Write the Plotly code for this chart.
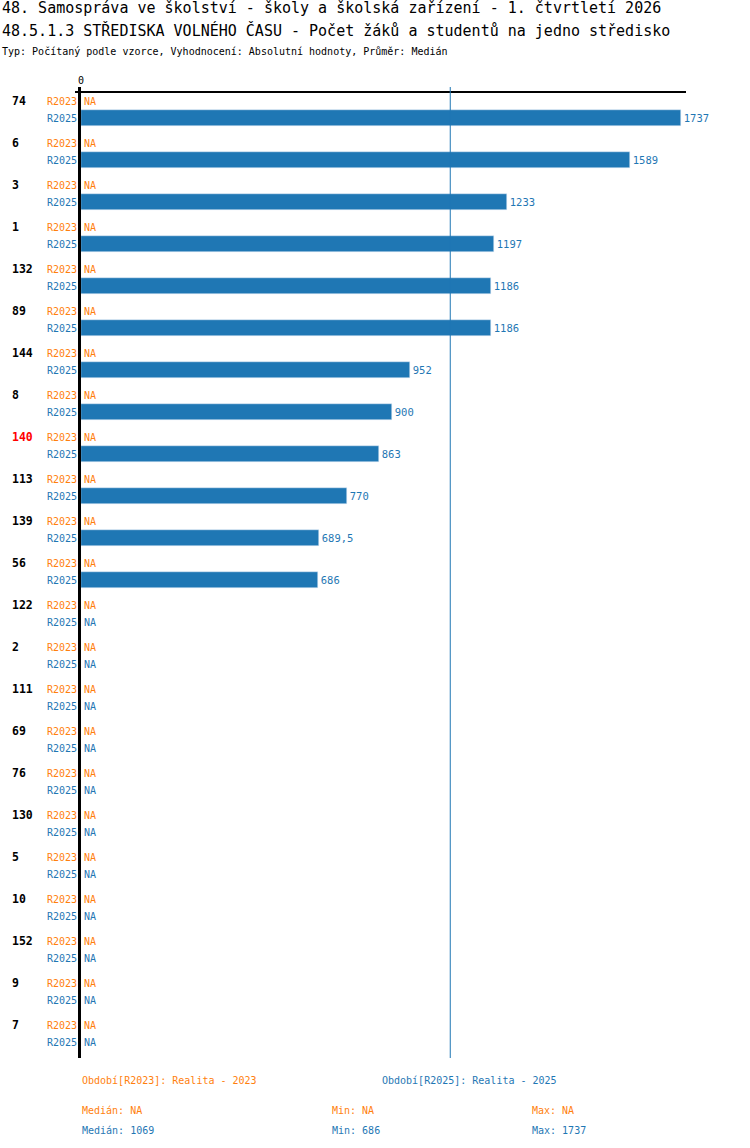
import plotly.graph_objects as go

categories = ["74", "6", "3", "1", "132", "89", "144", "8", "140", "113", "139", "56",
              "122", "2", "111", "69", "76", "130", "5", "10", "152", "9", "7"]
highlight = "140"
r2023 = [None] * 23
r2025 = [1737, 1589, 1233, 1197, 1186, 1186, 952, 900, 863, 770, 689.5, 686,
         None, None, None, None, None, None, None, None, None, None, None]
r2025_text = ["1737", "1589", "1233", "1197", "1186", "1186", "952", "900", "863",
              "770", "689,5", "686"]
median_2025 = 1069
stats_2023 = ["Medián: NA", "Min: NA", "Max: NA"]
stats_2025 = ["Medián: 1069", "Min: 686", "Max: 1737"]

ORANGE = "#ff7f0e"
BLUE = "#1f77b4"
FONT = "DejaVu Sans Mono"

W, H = 750, 1148
top, bottom = 87, 1058
left, right = 81, 686
xmax = 1737 * (right - left) / 600.0


def py(px):
    # pixel row -> paper y
    return (bottom - px) / (bottom - top)


def px_x(px):
    return (px - left) / (right - left)


# row pitch 42px, first R2023 row centre at 101px
y_lo = (bottom - 101) / 42.0
y_hi = (top - 101) / 42.0
off = 17 / 42.0

y23 = [i for i in range(len(categories))]
y25 = [i + off for i in range(len(categories))]

fig = go.Figure()
fig.add_trace(go.Bar(
    x=r2025, y=y25, orientation="h", marker_color=BLUE, width=16 / 42.0,
    text=r2025_text + [""] * (len(categories) - len(r2025_text)),
    textposition="outside", textfont=dict(family=FONT, size=10.5, color=BLUE),
    cliponaxis=False, showlegend=False, hoverinfo="skip",
))

ann = []
for i, c in enumerate(categories):
    ann.append(dict(x=px_x(10), y=y23[i], xref="paper", yref="y", text="<b>%s</b>" % c,
                    xanchor="left", showarrow=False,
                    font=dict(family=FONT, size=11.5, color="#ff0000" if c == highlight else "black")))
    ann.append(dict(x=0, y=y23[i], xref="paper", yref="y", text="R2023", xanchor="right",
                    xshift=-2, showarrow=False, font=dict(family=FONT, size=10, color=ORANGE)))
    ann.append(dict(x=0, y=y25[i], xref="paper", yref="y", text="R2025", xanchor="right",
                    xshift=-2, showarrow=False, font=dict(family=FONT, size=10, color=BLUE)))
    if r2023[i] is None:
        ann.append(dict(x=0, y=y23[i], xref="x", yref="y", text="NA", xanchor="left",
                        xshift=1, showarrow=False, font=dict(family=FONT, size=10, color=ORANGE)))
    if r2025[i] is None:
        ann.append(dict(x=0, y=y25[i], xref="x", yref="y", text="NA", xanchor="left",
                        xshift=1, showarrow=False, font=dict(family=FONT, size=10, color=BLUE)))

titles = [
    ("48. Samospráva ve školství - školy a školská zařízení - 1. čtvrtletí 2026", 8, 15),
    ("48.5.1.3 STŘEDISKA VOLNÉHO ČASU - Počet žáků a studentů na jedno středisko", 30, 15),
    ("Typ: Počítaný podle vzorce, Vyhodnocení: Absolutní hodnoty, Průměr: Medián", 51, 10),
]
for t, ypx, s in titles:
    ann.append(dict(x=px_x(0), y=py(ypx), xref="paper", yref="paper", text=t, xanchor="left",
                    yanchor="middle", showarrow=False, font=dict(family=FONT, size=s, color="black")))


def foot(xp, ypx, text, color):
    return dict(x=px_x(xp), y=py(ypx), xref="paper", yref="paper", text=text, xanchor="left",
                yanchor="middle", showarrow=False, font=dict(family=FONT, size=10, color=color))


ann.append(foot(80, 1080, "Období[R2023]: Realita - 2023", ORANGE))
ann.append(foot(380, 1080, "Období[R2025]: Realita - 2025", BLUE))
for xp, a, b in zip([80, 330, 530], stats_2023, stats_2025):
    ann.append(foot(xp, 1110, a, ORANGE))
    ann.append(foot(xp, 1130, b, BLUE))

shapes = [
    dict(type="line", xref="paper", yref="y", x0=px_x(75), x1=1, y0=(92 - 101) / 42.0,
         y1=(92 - 101) / 42.0, line=dict(color="black", width=2)),
    dict(type="line", xref="x", yref="paper", x0=median_2025, x1=median_2025, y0=0, y1=1,
         line=dict(color=BLUE, width=1)),
]

fig.update_layout(
    width=W, height=H,
    margin=dict(l=left, r=W - right, t=top, b=H - bottom, pad=0),
    plot_bgcolor="white", paper_bgcolor="white",
    annotations=ann, shapes=shapes,
    xaxis=dict(range=[0, xmax], side="top", tickvals=[0], ticktext=["0"], showgrid=False,
               zeroline=False, ticks="", tickfont=dict(family=FONT, size=10, color="black"),
               fixedrange=True),
    yaxis=dict(range=[y_lo, y_hi], showticklabels=False, showgrid=False, zeroline=False,
               showline=True, linecolor="black", linewidth=3, ticks=""),
    bargap=0,
)

# drop the browser's default 8px body margin so the figure sits at the page corner
fig.write_html("out.html", config={"displayModeBar": False},
               post_script="document.body.style.margin='0';")
